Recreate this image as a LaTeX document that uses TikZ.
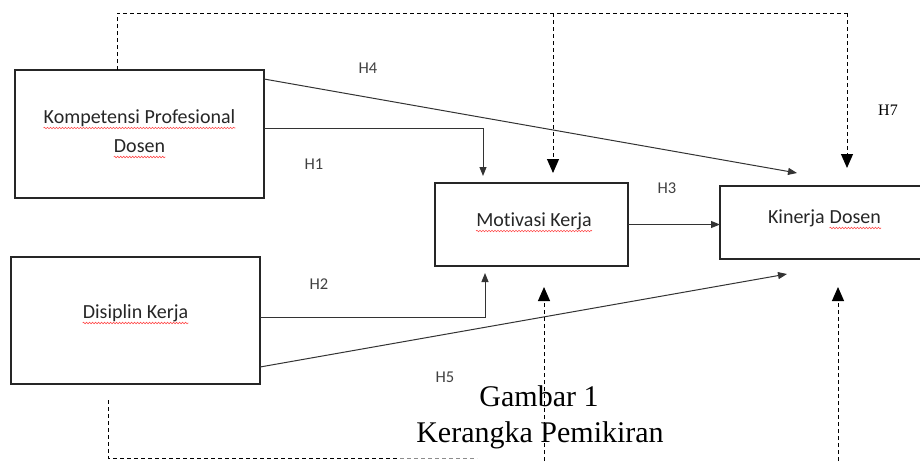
\documentclass[tikz,border=0pt]{standalone}
\usepackage{fontspec}
\setmainfont{Liberation Serif}
\newfontfamily\calfont[RawFeature={-liga;-clig;-dlig}]{Carlito}
\usetikzlibrary{arrows.meta,calc,decorations.pathmorphing}
\begin{document}
\begin{tikzpicture}[x=1pt,y=-1pt,
  box/.style={draw=black!85,line width=1.8pt,inner sep=0pt,outer sep=0pt},
  lbl/.style={inner sep=0pt,font=\calfont\fontsize{20}{24}\selectfont,text=black!85},
  hlbl/.style={inner sep=0pt,font=\calfont\fontsize{16.5}{20}\selectfont,text=black!75},
  conn/.style={draw=black!80,line width=1pt,-{Triangle[length=9pt,width=7pt]}},
  dsh/.style={draw=black,line width=1pt,dash pattern=on 4pt off 3pt},
  dsharr/.style={dsh,-{Triangle[length=14pt,width=12pt]}},
  spell/.style={draw=red!70,line width=0.6pt,decorate,decoration={snake,amplitude=0.8pt,segment length=3pt}}]
\useasboundingbox (0,0) rectangle (920,461);
% boxes
\node[box,minimum width=249pt,minimum height=128pt] (kpd) at (139.5,134) {};
\node[box,minimum width=249pt,minimum height=127pt] (dk) at (135.5,320.5) {};
\node[box,minimum width=193pt,minimum height=83pt] (mk) at (531.5,224.5) {};
\node[box,minimum width=210pt,minimum height=73pt] (kd) at (825,222.5) {};
% box texts
\node[lbl,anchor=base] (kpdt1) at (139.5,123) {Kompetensi Profesional};
\node[lbl,anchor=base] (kpdt2) at (139.5,152) {Dosen};
\node[lbl,anchor=base] (dkt) at (135.5,318) {Disiplin Kerja};
\node[lbl,anchor=base] (mkt) at (534,226) {Motivasi Kerja};
\node[lbl,anchor=base east] (kdt1) at (825,223) {Kinerja};
\node[lbl,anchor=base west] (kdt2) at ([xshift=4.5pt]kdt1.base east) {Dosen};
% spell-check underlines
\foreach \n in {kpdt1,kpdt2,dkt,mkt,kdt2}
  \draw[spell] ([yshift=-5pt]\n.base west) -- ([yshift=-5pt]\n.base east);
% hypothesis labels
\node[hlbl] (h4) at (368,68) {H4};
\node[hlbl] (h1) at (314,164) {H1};
\node[hlbl] (h3) at (667,188) {H3};
\node[hlbl] (h2) at (319,284) {H2};
\node[hlbl] (h5) at (445,377.5) {H5};
\node[inner sep=0pt,font=\fontsize{16}{19}\selectfont] (h7) at (888,110) {H7};
% caption
\node[inner sep=0pt,anchor=base,font=\fontsize{30}{36}\selectfont] (cap1) at (539,406) {Gambar 1};
\node[inner sep=0pt,anchor=base,font=\fontsize{30}{36}\selectfont] (cap2) at (540,442) {Kerangka Pemikiran};
% solid connectors
\draw[conn] ([yshift=-9pt]kpd.north east) -- ([xshift=77pt,yshift=13pt]kd.north west);
\draw[conn] ([yshift=6pt]kpd.east) -| ([xshift=48pt,yshift=7pt]mk.north west);
\draw[conn] (mk.east) -- (mk.east -| kd.west);
\draw[conn] ([yshift=3.5pt]dk.east) -| ([xshift=50pt,yshift=-7pt]mk.south west);
\draw[conn] ([yshift=-46.5pt]dk.east) -- ([xshift=67pt,yshift=-15pt]kd.south west);
% dashed top
\coordinate (tl) at (117,13);
\coordinate (tm) at (553,13);
\coordinate (tr) at (847,13);
\coordinate (tmtip) at (553,173);
\coordinate (trtip) at (847,168);
\draw[dsh] (kpd.north -| tl) -- (tl) -- (tr);
\draw[dsharr] (tm) -- (tmtip);
\draw[dsharr] (tr) -- (trtip);
% dashed bottom
\coordinate (bd) at (108,400);
\coordinate (bl) at (108,458);
\coordinate (bg) at (400,458);
\coordinate (br) at (477,458);
\draw[dsh] (bd) -- (bl) -- (bg);
\draw[dsh,draw=black!45] (bg) -- (br);
\coordinate (bm) at (544,461);
\coordinate (bmtip) at (544,287);
\coordinate (bx) at (838,461);
\coordinate (bxtip) at (838,287);
\draw[dsharr] (bm) -- (bmtip);
\draw[dsharr] (bx) -- (bxtip);
\end{tikzpicture}
\end{document}
